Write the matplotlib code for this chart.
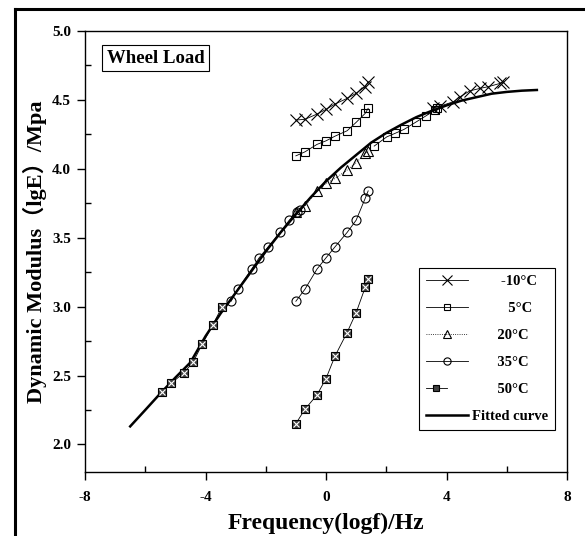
import matplotlib
matplotlib.use('Agg')
import matplotlib.pyplot as plt
import matplotlib.ticker as ticker
from matplotlib.lines import Line2D
from matplotlib.legend_handler import HandlerTuple

plt.rcParams['font.family'] = ['Liberation Serif', 'Noto Sans CJK SC', 'DejaVu Sans']
plt.rcParams['font.weight'] = 'bold'
plt.rcParams['axes.unicode_minus'] = False

# ---------------------------------------------------------------------------- #
# data: logf [Hz] and lgE [MPa]

logf_test = [-1.0, -0.7, -0.3, 0.0, 0.3, 0.7, 1.0, 1.3, 1.4]

# measured at test frequencies
lgE_m10 = [4.354, 4.359, 4.397, 4.431, 4.470, 4.511, 4.548, 4.596, 4.632]
lgE_5   = [4.094, 4.123, 4.177, 4.203, 4.237, 4.276, 4.337, 4.402, 4.439]
lgE_20  = [3.690, 3.729, 3.838, 3.894, 3.930, 3.991, 4.044, 4.112, 4.131]
lgE_35  = [3.039, 3.126, 3.272, 3.354, 3.434, 3.538, 3.627, 3.785, 3.840]
lgE_50  = [2.151, 2.255, 2.359, 2.478, 2.642, 2.812, 2.956, 3.139, 3.204]

# shifted points on the master curve
shift_x_m10 = [3.55, 3.79, 4.23, 4.45, 4.78, 5.12, 5.39, 5.78, 5.89]
shift_y_m10 = [4.439, 4.455, 4.487, 4.523, 4.566, 4.584, 4.596, 4.620, 4.632]
shift_x_5 = [1.60, 2.02, 2.29, 2.59, 3.00, 3.31, 3.62, 3.68]
shift_y_5 = [4.165, 4.232, 4.257, 4.286, 4.341, 4.383, 4.426, 4.439]
shift_x_35 = [-3.15, -2.93, -2.47, -2.22, -1.92, -1.53, -1.22, -0.97, -0.86]
shift_y_35 = [3.039, 3.126, 3.272, 3.354, 3.434, 3.538, 3.627, 3.688, 3.700]
shift_x_50 = [-5.43, -5.13, -4.72, -4.41, -4.11, -3.75, -3.45]
shift_y_50 = [2.381, 2.446, 2.519, 2.598, 2.727, 2.870, 3.000]

# fitted master curve
fit_x = [-6.5, -6.0, -5.5, -5.0, -4.5, -4.0, -3.5, -3.0, -2.5, -2.0, -1.5,
         -1.0, -0.5, 0.0, 0.5, 1.0, 1.5, 2.0, 2.5, 3.0, 3.5, 4.0, 4.5,
         5.0, 5.5, 6.0, 6.5, 7.0]
fit_y = [2.131, 2.250, 2.370, 2.485, 2.595, 2.785, 2.950, 3.100, 3.250,
         3.400, 3.540, 3.670, 3.795, 3.910, 4.010, 4.100, 4.190, 4.260,
         4.320, 4.375, 4.420, 4.460, 4.495, 4.520, 4.545, 4.558, 4.567, 4.572]

labels = ['-10°C', '5°C', '20°C', '35°C', '50°C', 'Fitted curve']

# ---------------------------------------------------------------------------- #

fig = plt.figure(figsize=(5.85, 5.36), dpi=100)
ax = fig.add_axes([85/585, 1-472/536, 482/585, 441/536])

lw_thin = 0.6

kw = dict(color='k', lw=lw_thin, mfc='none', mec='k', mew=0.8)

l1, = ax.plot(logf_test, lgE_m10, marker='x', ms=8.5, **kw)
ax.plot(shift_x_m10, shift_y_m10, marker='x', ms=8.5, **kw)

l2, = ax.plot(logf_test, lgE_5, marker='s', ms=5.5, **kw)
ax.plot(shift_x_5, shift_y_5, marker='s', ms=5.5, **kw)

l3, = ax.plot(logf_test, lgE_20, marker='^', ms=7, ls=':', **kw)

l4, = ax.plot(logf_test, lgE_35, marker='o', ms=6.5, **kw)
ax.plot(shift_x_35, shift_y_35, marker='o', ms=6.5, **kw)

l5a, = ax.plot(logf_test, lgE_50, marker='s', ms=6, color='k', lw=lw_thin,
               mfc='0.25', mec='k', mew=0.8)
l5b, = ax.plot(logf_test, lgE_50, 'x', ms=4, color='w', mew=0.8)
ax.plot(shift_x_50, shift_y_50, marker='s', ms=6, color='k', lw=lw_thin,
        mfc='0.25', mec='k', mew=0.8)
ax.plot(shift_x_50, shift_y_50, 'x', ms=4, color='w', mew=0.8)

l6, = ax.plot(fit_x, fit_y, color='k', lw=1.8, zorder=1)

# Axes ranges and ticks.
ax.set_xlim(-8, 8)
ax.set_ylim(1.8, 5.0)
ax.xaxis.set_major_locator(ticker.MultipleLocator(4))
ax.xaxis.set_minor_locator(ticker.MultipleLocator(2))
ax.yaxis.set_major_locator(ticker.MultipleLocator(0.5))
ax.yaxis.set_minor_locator(ticker.MultipleLocator(0.25))
ax.yaxis.set_major_formatter(ticker.FormatStrFormatter('%.1f'))
ax.tick_params(which='major', direction='out', length=6, width=1, labelsize=11, pad=4)
ax.tick_params(axis='x', which='major', pad=8)
ax.tick_params(which='minor', direction='in', length=4, width=1)
for lab in ax.get_xticklabels() + ax.get_yticklabels():
    lab.set_fontweight('bold')
for sp in ax.spines.values():
    sp.set_linewidth(1.0)

ax.set_xlabel('Frequency(logf)/Hz', fontsize=17, fontweight='bold', labelpad=6)
ax.set_ylabel('Dynamic Modulus\uff08lgE\uff09/Mpa', fontsize=16, fontweight='bold', labelpad=4)

# Label box.
ax.text(0.045, 0.958, 'Wheel Load', transform=ax.transAxes, fontsize=13.5,
        fontweight='bold', ha='left', va='top',
        bbox=dict(boxstyle='square,pad=0.25', fc='white', ec='k', lw=0.8))

# Legend.
pads = ['        ', '          ', '       ', '       ', '       ', '']
leg = ax.legend([l1, l2, l3, l4, (l5a, l5b), l6],
                [p + s for p, s in zip(pads, labels)],
                handler_map={tuple: HandlerTuple(ndivide=None, pad=0)},
                loc='upper left', bbox_to_anchor=(0.693, 0.4626),
                borderaxespad=0, frameon=True, fancybox=False,
                edgecolor='k', framealpha=1, handlelength=2.9,
                handletextpad=0.3, labelspacing=0.95, borderpad=0.45,
                markerscale=0.8, prop={'size': 10.5, 'weight': 'bold'})
leg.get_frame().set_linewidth(0.8)

# Outer frame.
fig.add_artist(Line2D([15/585, 15/585], [0, 1-9/536], color='k', lw=2.2))
fig.add_artist(Line2D([15/585, 1], [1-9/536, 1-9/536], color='k', lw=2.2))

plt.savefig('out.png', dpi=100)
